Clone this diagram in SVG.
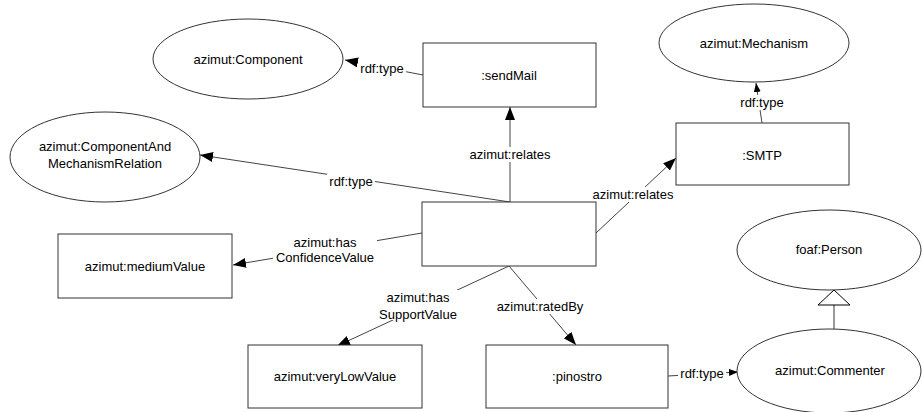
<svg xmlns="http://www.w3.org/2000/svg" width="922" height="412" viewBox="0 0 922 412">
<style>
text{font-family:"Liberation Sans",Arial,sans-serif;font-size:13px;fill:#000;text-anchor:middle;dominant-baseline:central}
.box{fill:#fff;stroke:#333;stroke-width:1}
.ell{fill:#fff;stroke:#333;stroke-width:1}
.edge{fill:none;stroke:#444;stroke-width:1}
.lbg{fill:#fff}
</style>
<defs>
<marker id="ah" markerUnits="userSpaceOnUse" markerWidth="14" markerHeight="12" refX="13" refY="5" orient="auto">
<polygon points="0,0 13,5 0,10" fill="#000"/>
</marker>
<marker id="as" markerUnits="userSpaceOnUse" markerWidth="10" markerHeight="8" refX="9" refY="3.5" orient="auto">
<polygon points="0,0 9,3.5 0,7" fill="#000"/>
</marker>
</defs>
<rect width="922" height="412" fill="#fff"/>
<g id="connectors">
<line class="edge" x1="423" y1="75" x2="345" y2="60" marker-end="url(#ah)"/>
<line class="edge" x1="762" y1="123" x2="756" y2="83" marker-end="url(#as)"/>
<line class="edge" x1="510" y1="202" x2="510" y2="107" marker-end="url(#ah)"/>
<line class="edge" x1="510" y1="202" x2="200" y2="155" marker-end="url(#ah)"/>
<line class="edge" x1="596" y1="233" x2="676" y2="158" marker-end="url(#ah)"/>
<line class="edge" x1="422" y1="233" x2="233" y2="265" marker-end="url(#ah)"/>
<line class="edge" x1="509" y1="266" x2="337" y2="346" marker-end="url(#ah)"/>
<line class="edge" x1="509" y1="266" x2="576" y2="345" marker-end="url(#ah)"/>
<line class="edge" x1="668" y1="376" x2="738" y2="372" marker-end="url(#as)"/>
<line x1="834" y1="305" x2="834" y2="330" stroke="#777" stroke-width="1.5"/>
<polygon points="834,290 850,305 818,305" fill="#fff" stroke="#000" stroke-width="1"/>
<rect class="lbg" x="358" y="61" width="48" height="15"/>
<text x="382" y="68">rdf:type</text>
<rect class="lbg" x="738" y="95" width="48" height="15"/>
<text x="762" y="102">rdf:type</text>
<rect class="lbg" x="468" y="147" width="84" height="15"/>
<text x="510" y="154">azimut:relates</text>
<rect class="lbg" x="327" y="174" width="48" height="15"/>
<text x="351" y="181">rdf:type</text>
<rect class="lbg" x="591" y="187" width="85" height="15"/>
<text x="633" y="194">azimut:relates</text>
<rect class="lbg" x="273" y="235" width="104" height="30"/>
<text x="325" y="242">azimut:has</text>
<text x="325" y="257">ConfidenceValue</text>
<rect class="lbg" x="376" y="290" width="84" height="30"/>
<text x="418" y="297">azimut:has</text>
<text x="418" y="314">SupportValue</text>
<rect class="lbg" x="496" y="299" width="90" height="15"/>
<text x="540" y="306">azimut:ratedBy</text>
<rect class="lbg" x="678" y="366" width="48" height="15"/>
<text x="702" y="373">rdf:type</text>
</g>
<g id="n-component"><ellipse class="ell" cx="248" cy="59" rx="95" ry="40"/><text x="248" y="59">azimut:Component</text></g>
<g id="n-mechanism"><ellipse class="ell" cx="754" cy="43" rx="95" ry="39"/><text x="754" y="43">azimut:Mechanism</text></g>
<g id="n-cmr"><ellipse class="ell" cx="105" cy="157" rx="95" ry="45"/><text x="105" y="146">azimut:ComponentAnd</text><text x="105" y="163">MechanismRelation</text></g>
<g id="n-sendmail"><rect class="box" x="423" y="43" width="173" height="64"/><text x="509" y="75">:sendMail</text></g>
<g id="n-smtp"><rect class="box" x="676" y="123" width="173" height="62"/><text x="762" y="155">:SMTP</text></g>
<g id="n-center"><rect class="box" x="422" y="202" width="174" height="64"/></g>
<g id="n-medium"><rect class="box" x="58" y="234" width="174" height="64"/><text x="145" y="266">azimut:mediumValue</text></g>
<g id="n-verylow"><rect class="box" x="248" y="345" width="174" height="63"/><text x="335" y="376">azimut:veryLowValue</text></g>
<g id="n-pinostro"><rect class="box" x="486" y="345" width="182" height="63"/><text x="577" y="376">:pinostro</text></g>
<g id="n-person"><ellipse class="ell" cx="829" cy="250" rx="92" ry="40"/><text x="829" y="249">foaf:Person</text></g>
<g id="n-commenter"><ellipse class="ell" cx="829" cy="371" rx="92" ry="42"/><text x="830" y="370">azimut:Commenter</text></g>
</svg>
